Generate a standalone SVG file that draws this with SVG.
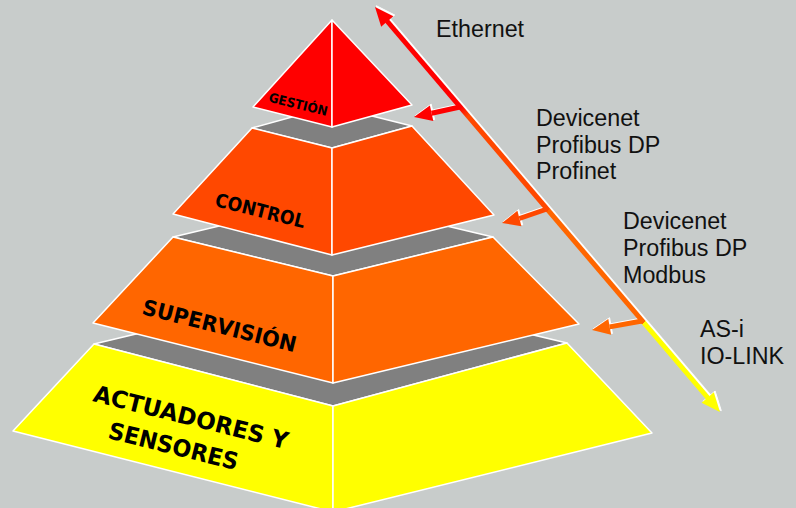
<svg xmlns="http://www.w3.org/2000/svg" width="796" height="508" viewBox="0 0 796 508">
<style>
.face{stroke:#FFFFFF;stroke-width:1.5;stroke-linejoin:round}
.top{fill:#808080;stroke:#FFFFFF;stroke-width:1.5;stroke-linejoin:round}
.lvl{font-family:"DejaVu Sans","Liberation Sans",sans-serif;font-weight:bold;fill:#000000}
.lbl{font-family:"Liberation Sans",Arial,sans-serif;font-size:23.3px;fill:#111111}
.hl{stroke:#FFFFFF;fill:#FFFFFF}
</style>
<defs>
<linearGradient id="busGrad" gradientUnits="userSpaceOnUse" x1="375" y1="7" x2="720" y2="412">
<stop offset="0" stop-color="#FF0000"/>
<stop offset="0.248" stop-color="#FF0000"/>
<stop offset="0.27" stop-color="#FF4800"/>
<stop offset="0.502" stop-color="#FF4800"/>
<stop offset="0.502" stop-color="#FF6600"/>
<stop offset="0.779" stop-color="#FF6600"/>
<stop offset="0.779" stop-color="#FFFF00"/>
<stop offset="1" stop-color="#FFFF00"/>
</linearGradient>
</defs>
<rect width="796" height="508" fill="#C8CCCB"/>

<g id="actuadores">
<polygon class="top" points="94,344 333,287 567,343 333,406"/>
<polygon class="face" fill="#FFFF00" points="94,344 333,406 333,512 13,431"/>
<polygon class="face" fill="#FFFF00" points="333,406 567,343 652,433 333,512"/>
<text class="lvl" font-size="23.5" x="92" y="401" textLength="200" lengthAdjust="spacingAndGlyphs" transform="rotate(14 92 401)">ACTUADORES Y</text>
<text class="lvl" font-size="23.5" x="107" y="438" textLength="133" lengthAdjust="spacingAndGlyphs" transform="rotate(14 107 438)">SENSORES</text>
</g>

<g id="supervision">
<polygon class="top" points="173,237 333,199 493,237 333,276"/>
<polygon class="face" fill="#FF6600" points="173,237 333,276 333,383 93,323"/>
<polygon class="face" fill="#FF6600" points="333,276 493,237 579,324 333,383"/>
<text class="lvl" font-size="21.5" x="141" y="314" textLength="158" lengthAdjust="spacingAndGlyphs" transform="rotate(14 141 314)">SUPERVISIÓN</text>
</g>

<g id="control">
<polygon class="top" points="252,128 332,106 412,126 332,148"/>
<polygon class="face" fill="#FF4800" points="252,128 332,148 332,255 173,214"/>
<polygon class="face" fill="#FF4800" points="332,148 412,126 494,215 332,255"/>
<text class="lvl" font-size="19" x="214" y="206" textLength="92" lengthAdjust="spacingAndGlyphs" transform="rotate(14 214 206)">CONTROL</text>
</g>

<g id="gestion">
<polygon class="face" fill="#FF0000" points="332,20 253,107 332,127"/>
<polygon class="face" fill="#FF0000" points="332,20 412,105 332,127"/>
<text class="lvl" font-size="13" x="268" y="101.5" textLength="60" lengthAdjust="spacingAndGlyphs" transform="rotate(14 268 101.5)">GESTIÓN</text>
</g>

<g id="connectors">
<g transform="translate(1.3,-1.3)">
<line class="hl" x1="387" y1="21" x2="708" y2="398" stroke-width="5"/>
<polygon class="hl" stroke-width="1" points="375,7 393.4,16.3 381.2,26.7"/>
<polygon class="hl" stroke-width="1" points="720,412 713.8,392.3 701.6,402.7"/>
<line class="hl" x1="460" y1="107" x2="431.6" y2="113.2" stroke-width="5"/>
<polygon class="hl" stroke-width="1" points="414,117 433.3,121 429.9,105.4"/>
<line class="hl" x1="547" y1="209" x2="519.4" y2="218.5" stroke-width="5"/>
<polygon class="hl" stroke-width="1" points="502,223 521.4,226.2 517.4,210.8"/>
<line class="hl" x1="642" y1="321" x2="609.7" y2="326.9" stroke-width="5"/>
<polygon class="hl" stroke-width="1" points="592,330 611.1,334.8 608.3,319"/>
</g>
<line x1="387" y1="21" x2="708" y2="398" stroke="url(#busGrad)" stroke-width="5"/>
<polygon fill="#FF0000" points="375,7 393.4,16.3 381.2,26.7"/>
<polygon fill="#FFFF00" points="720,412 713.8,392.3 701.6,402.7"/>
<line x1="460" y1="107" x2="431.6" y2="113.2" stroke="#FF0000" stroke-width="5"/>
<polygon fill="#FF0000" points="414,117 433.3,121 429.9,105.4"/>
<line x1="547" y1="209" x2="519.4" y2="218.5" stroke="#FF4800" stroke-width="5"/>
<polygon fill="#FF4800" points="502,223 521.4,226.2 517.4,210.8"/>
<line x1="642" y1="321" x2="609.7" y2="326.9" stroke="#FF6600" stroke-width="5"/>
<polygon fill="#FF6600" points="592,330 611.1,334.8 608.3,319"/>
</g>

<g id="labels">
<text class="lbl" x="436" y="37">Ethernet</text>
<text class="lbl" x="536" y="126">Devicenet</text>
<text class="lbl" x="536" y="153">Profibus DP</text>
<text class="lbl" x="536" y="179">Profinet</text>
<text class="lbl" x="623" y="229">Devicenet</text>
<text class="lbl" x="623" y="256">Profibus DP</text>
<text class="lbl" x="623" y="283">Modbus</text>
<text class="lbl" x="700" y="337">AS-i</text>
<text class="lbl" x="700" y="364">IO-LINK</text>
</g>
</svg>
